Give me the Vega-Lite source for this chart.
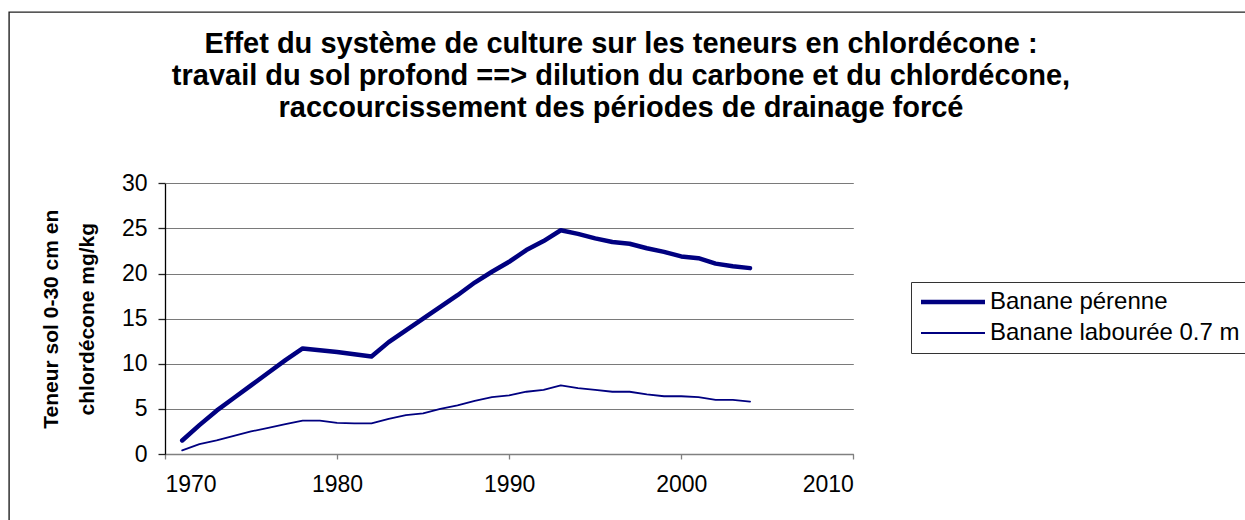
{
  "$schema": "https://vega.github.io/schema/vega-lite/v6.json",
  "autosize": "none",
  "padding": {"left": 9, "top": 12, "right": -10, "bottom": -10},
  "width": 1246,
  "height": 518,
  "background": "white",
  "config": {
    "view": {"stroke": "#222222", "strokeWidth": 1.4, "fill": "white"},
    "font": "Liberation Sans"
  },
  "title": {
    "text": [
      "Effet du système de culture sur les teneurs en chlordécone :",
      "travail du sol profond ==> dilution du carbone et du chlordécone,",
      "raccourcissement des périodes de drainage forcé"
    ],
    "font": "Liberation Sans",
    "fontSize": 29,
    "fontWeight": "bold",
    "lineHeight": 32,
    "color": "#000000",
    "anchor": "middle",
    "frame": "group",
    "offset": -111,
    "dx": -11
  },
  "data": {
    "values": [
      {"annee": 1971, "teneur": 1.5, "serie": "Banane pérenne"},
      {"annee": 1972, "teneur": 3.2, "serie": "Banane pérenne"},
      {"annee": 1973, "teneur": 4.8, "serie": "Banane pérenne"},
      {"annee": 1974, "teneur": 6.2, "serie": "Banane pérenne"},
      {"annee": 1975, "teneur": 7.6, "serie": "Banane pérenne"},
      {"annee": 1976, "teneur": 9.0, "serie": "Banane pérenne"},
      {"annee": 1977, "teneur": 10.4, "serie": "Banane pérenne"},
      {"annee": 1978, "teneur": 11.7, "serie": "Banane pérenne"},
      {"annee": 1979, "teneur": 11.5, "serie": "Banane pérenne"},
      {"annee": 1980, "teneur": 11.3, "serie": "Banane pérenne"},
      {"annee": 1981, "teneur": 11.05, "serie": "Banane pérenne"},
      {"annee": 1982, "teneur": 10.8, "serie": "Banane pérenne"},
      {"annee": 1983, "teneur": 12.4, "serie": "Banane pérenne"},
      {"annee": 1984, "teneur": 13.7, "serie": "Banane pérenne"},
      {"annee": 1985, "teneur": 15.0, "serie": "Banane pérenne"},
      {"annee": 1986, "teneur": 16.3, "serie": "Banane pérenne"},
      {"annee": 1987, "teneur": 17.6, "serie": "Banane pérenne"},
      {"annee": 1988, "teneur": 19.0, "serie": "Banane pérenne"},
      {"annee": 1989, "teneur": 20.2, "serie": "Banane pérenne"},
      {"annee": 1990, "teneur": 21.3, "serie": "Banane pérenne"},
      {"annee": 1991, "teneur": 22.6, "serie": "Banane pérenne"},
      {"annee": 1992, "teneur": 23.6, "serie": "Banane pérenne"},
      {"annee": 1993, "teneur": 24.8, "serie": "Banane pérenne"},
      {"annee": 1994, "teneur": 24.4, "serie": "Banane pérenne"},
      {"annee": 1995, "teneur": 23.9, "serie": "Banane pérenne"},
      {"annee": 1996, "teneur": 23.5, "serie": "Banane pérenne"},
      {"annee": 1997, "teneur": 23.3, "serie": "Banane pérenne"},
      {"annee": 1998, "teneur": 22.8, "serie": "Banane pérenne"},
      {"annee": 1999, "teneur": 22.4, "serie": "Banane pérenne"},
      {"annee": 2000, "teneur": 21.9, "serie": "Banane pérenne"},
      {"annee": 2001, "teneur": 21.7, "serie": "Banane pérenne"},
      {"annee": 2002, "teneur": 21.1, "serie": "Banane pérenne"},
      {"annee": 2003, "teneur": 20.8, "serie": "Banane pérenne"},
      {"annee": 2004, "teneur": 20.6, "serie": "Banane pérenne"},
      {"annee": 1971, "teneur": 0.4, "serie": "Banane labourée 0.7 m"},
      {"annee": 1972, "teneur": 1.1, "serie": "Banane labourée 0.7 m"},
      {"annee": 1973, "teneur": 1.5, "serie": "Banane labourée 0.7 m"},
      {"annee": 1974, "teneur": 2.0, "serie": "Banane labourée 0.7 m"},
      {"annee": 1975, "teneur": 2.5, "serie": "Banane labourée 0.7 m"},
      {"annee": 1976, "teneur": 2.9, "serie": "Banane labourée 0.7 m"},
      {"annee": 1977, "teneur": 3.3, "serie": "Banane labourée 0.7 m"},
      {"annee": 1978, "teneur": 3.7, "serie": "Banane labourée 0.7 m"},
      {"annee": 1979, "teneur": 3.7, "serie": "Banane labourée 0.7 m"},
      {"annee": 1980, "teneur": 3.45, "serie": "Banane labourée 0.7 m"},
      {"annee": 1981, "teneur": 3.4, "serie": "Banane labourée 0.7 m"},
      {"annee": 1982, "teneur": 3.4, "serie": "Banane labourée 0.7 m"},
      {"annee": 1983, "teneur": 3.9, "serie": "Banane labourée 0.7 m"},
      {"annee": 1984, "teneur": 4.3, "serie": "Banane labourée 0.7 m"},
      {"annee": 1985, "teneur": 4.5, "serie": "Banane labourée 0.7 m"},
      {"annee": 1986, "teneur": 5.0, "serie": "Banane labourée 0.7 m"},
      {"annee": 1987, "teneur": 5.4, "serie": "Banane labourée 0.7 m"},
      {"annee": 1988, "teneur": 5.9, "serie": "Banane labourée 0.7 m"},
      {"annee": 1989, "teneur": 6.3, "serie": "Banane labourée 0.7 m"},
      {"annee": 1990, "teneur": 6.5, "serie": "Banane labourée 0.7 m"},
      {"annee": 1991, "teneur": 6.9, "serie": "Banane labourée 0.7 m"},
      {"annee": 1992, "teneur": 7.1, "serie": "Banane labourée 0.7 m"},
      {"annee": 1993, "teneur": 7.6, "serie": "Banane labourée 0.7 m"},
      {"annee": 1994, "teneur": 7.3, "serie": "Banane labourée 0.7 m"},
      {"annee": 1995, "teneur": 7.1, "serie": "Banane labourée 0.7 m"},
      {"annee": 1996, "teneur": 6.9, "serie": "Banane labourée 0.7 m"},
      {"annee": 1997, "teneur": 6.9, "serie": "Banane labourée 0.7 m"},
      {"annee": 1998, "teneur": 6.6, "serie": "Banane labourée 0.7 m"},
      {"annee": 1999, "teneur": 6.4, "serie": "Banane labourée 0.7 m"},
      {"annee": 2000, "teneur": 6.4, "serie": "Banane labourée 0.7 m"},
      {"annee": 2001, "teneur": 6.3, "serie": "Banane labourée 0.7 m"},
      {"annee": 2002, "teneur": 6.0, "serie": "Banane labourée 0.7 m"},
      {"annee": 2003, "teneur": 6.0, "serie": "Banane labourée 0.7 m"},
      {"annee": 2004, "teneur": 5.8, "serie": "Banane labourée 0.7 m"}
    ]
  },
  "mark": {"type": "line", "strokeJoin": "round", "strokeCap": "round"},
  "encoding": {
    "x": {
      "field": "annee",
      "type": "quantitative",
      "scale": {"domain": [1970, 2010], "range": [156, 844.3], "nice": false, "zero": false},
      "axis": {
        "title": null,
        "values": [1970, 1980, 1990, 2000, 2010],
        "format": "d",
        "grid": false,
        "offset": -76,
        "domainColor": "#808080",
        "domainWidth": 1.3,
        "tickColor": "#808080",
        "tickWidth": 1.3,
        "tickSize": 5,
        "labelFont": "Liberation Sans",
        "labelFontSize": 23,
        "labelColor": "#000000",
        "labelPadding": 14,
        "labelBaseline": "top"
      }
    },
    "y": {
      "field": "teneur",
      "type": "quantitative",
      "scale": {"domain": [0, 30], "range": [442, 171.3], "nice": false, "zero": false},
      "axis": {
        "title": ["Teneur sol 0-30 cm en", "chlordécone mg/kg"],
        "titleFont": "Liberation Sans",
        "titleFontSize": 21,
        "titleFontWeight": "bold",
        "titleColor": "#000000",
        "titleLineHeight": 36,
        "titleBaseline": "top",
        "titleAngle": -90,
        "titleAlign": "center",
        "titleX": -125,
        "titleY": 306.7,
        "values": [0, 5, 10, 15, 20, 25, 30],
        "grid": true,
        "gridColor": "#7a7a7a",
        "gridWidth": 1.2,
        "offset": -156,
        "domainColor": "#000000",
        "domainWidth": 1.3,
        "tickColor": "#222222",
        "tickWidth": 1.3,
        "tickSize": 7,
        "labelFont": "Liberation Sans",
        "labelFontSize": 23,
        "labelColor": "#000000",
        "labelPadding": 11
      }
    },
    "color": {
      "field": "serie",
      "type": "nominal",
      "scale": {"domain": ["Banane pérenne", "Banane labourée 0.7 m"], "range": ["#000080", "#000080"]},
      "legend": {
        "title": null,
        "orient": "none",
        "legendX": 902,
        "legendY": 270,
        "symbolType": "M-1.25,0H6.75",
        "symbolSize": 256,
        "labelFont": "Liberation Sans",
        "labelFontSize": 24,
        "labelColor": "#000000",
        "labelOffset": 47,
        "rowPadding": 7,
        "padding": 8,
        "strokeColor": "#333333",
        "labelLimit": 400
      }
    },
    "strokeWidth": {
      "field": "serie",
      "type": "nominal",
      "scale": {"domain": ["Banane pérenne", "Banane labourée 0.7 m"], "range": [4.5, 1.8]},
      "legend": {
        "title": null,
        "orient": "none",
        "legendX": 902,
        "legendY": 270,
        "symbolType": "M-1.25,0H6.75",
        "symbolSize": 256,
        "labelFont": "Liberation Sans",
        "labelFontSize": 24,
        "labelColor": "#000000",
        "labelOffset": 47,
        "rowPadding": 7,
        "padding": 8,
        "strokeColor": "#333333",
        "labelLimit": 400
      }
    }
  }
}
